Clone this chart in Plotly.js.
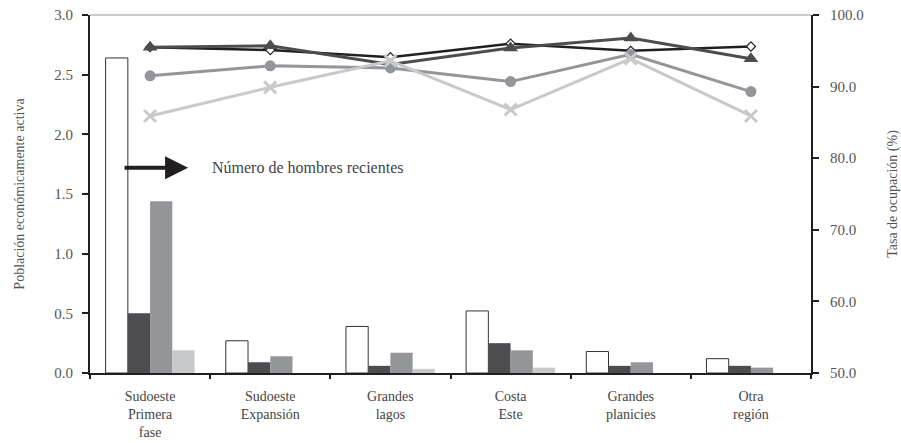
<!DOCTYPE html>
<html>
<head>
<meta charset="utf-8">
<script src="https://cdn.plot.ly/plotly-3.0.1.min.js"></script>
<style>html,body{margin:0;padding:0;background:#fff;}#chart{width:901px;height:443px;}</style>
</head>
<body>
<div id="chart"></div>
<script>
// Categories (x-axis tick labels)
const categories = ["Sudoeste<br>Primera<br>fase", "Sudoeste<br>Expansión", "Grandes<br>lagos", "Costa<br>Este", "Grandes<br>planicies", "Otra<br>región"];

// Bars: Población económicamente activa (left axis)
const barWhite = [2.64, 0.27, 0.39, 0.52, 0.18, 0.12];
const barDark  = [0.50, 0.09, 0.06, 0.25, 0.06, 0.06];
const barMid   = [1.44, 0.14, 0.17, 0.19, 0.09, 0.045];
const barLight = [0.19, 0, 0.035, 0.045, 0, 0];

// Lines: Tasa de ocupación (%) (right axis)
const lineTriangle = [95.5, 95.7, 93.1, 95.4, 96.8, 93.9];
const lineDiamond  = [95.5, 95.1, 94.1, 96.0, 95.0, 95.6];
const lineCircle   = [91.5, 92.9, 92.6, 90.7, 94.5, 89.3];
const lineCross    = [85.9, 89.9, 93.6, 86.8, 93.9, 85.9];

const annotationText = "Número de hombres recientes";
const yTitleLeft = "Población económicamente activa";
const yTitleRight = "Tasa de ocupación (%)";

const fontFam = "Liberation Serif, DejaVu Serif, serif";

const traces = [
  {type:'bar', x:categories, y:barWhite, marker:{color:'#ffffff', line:{color:'#333333', width:1}}, yaxis:'y'},
  {type:'bar', x:categories, y:barDark,  marker:{color:'#4d4d4f'}, yaxis:'y'},
  {type:'bar', x:categories, y:barMid,   marker:{color:'#939598'}, yaxis:'y'},
  {type:'bar', x:categories, y:barLight, marker:{color:'#c8c9cb'}, yaxis:'y'},
  {type:'scatter', mode:'lines+markers', x:categories, y:lineDiamond, yaxis:'y2',
   line:{color:'#231f20', width:2.5}, marker:{symbol:'diamond', size:7, color:'#ffffff', line:{color:'#231f20', width:1.2}}},
  {type:'scatter', mode:'lines+markers', x:categories, y:lineTriangle, yaxis:'y2',
   line:{color:'#4d4d4f', width:3}, marker:{symbol:'triangle-up', size:13, color:'#4d4d4f'}},
  {type:'scatter', mode:'lines+markers', x:categories, y:lineCircle, yaxis:'y2',
   line:{color:'#939598', width:3}, marker:{symbol:'circle', size:11, color:'#939598'}},
  {type:'scatter', mode:'lines+markers', x:categories, y:lineCross, yaxis:'y2',
   line:{color:'#c8c9cb', width:3}, marker:{symbol:'x-thin', size:12, color:'#c8c9cb', line:{color:'#c8c9cb', width:3}}}
];

const layout = {
  width:901, height:443,
  margin:{l:90, r:90, t:15, b:70},
  paper_bgcolor:'#ffffff', plot_bgcolor:'#ffffff',
  showlegend:false,
  barmode:'group', bargap:0.26, bargroupgap:0,
  font:{family:fontFam, size:15, color:'#444444'},
  xaxis:{type:'category', showline:true, linecolor:'#231f20', linewidth:2,
    ticks:'outside', tickson:'boundaries', ticklen:4, tickcolor:'#231f20', tickwidth:2,
    ticklabelstandoff:9,
    showgrid:false, zeroline:false, tickfont:{family:fontFam, size:14, color:'#444444'}},
  yaxis:{range:[0,3], dtick:0.5, tickformat:'.1f', showline:true, linecolor:'#231f20', linewidth:2,
    ticks:'outside', ticklen:6, tickcolor:'#231f20', tickwidth:2, showgrid:false, zeroline:false,
    ticklabelstandoff:6,
    title:{text:yTitleLeft, font:{family:fontFam, size:14, color:'#555555'}, standoff:26},
    tickfont:{family:fontFam, size:15, color:'#555555'}},
  yaxis2:{range:[50,100], dtick:10, tickformat:'.1f', overlaying:'y', side:'right', showline:true,
    linecolor:'#231f20', linewidth:2, ticks:'outside', ticklen:6, tickcolor:'#231f20', tickwidth:2,
    showgrid:false, zeroline:false, ticklabelstandoff:8,
    title:{text:yTitleRight, font:{family:fontFam, size:14, color:'#555555'}, standoff:24},
    tickfont:{family:fontFam, size:15, color:'#555555'}},
  shapes:[
    {type:'line', xref:'paper', yref:'paper', x0:0, x1:1, y0:1, y1:1, line:{color:'#c8c9cb', width:2}}
  ],
  annotations:[
    {xref:'paper', yref:'y', x:0.136, y:1.72, ax:-65, ay:0, text:'', showarrow:true,
     arrowhead:2, arrowsize:1.15, arrowwidth:4, arrowcolor:'#231f20'},
    {xref:'paper', yref:'y', x:0.166, y:1.72, xanchor:'left', yanchor:'middle', showarrow:false,
     text:annotationText, font:{family:fontFam, size:16, color:'#444444'}}
  ]
};

Plotly.newPlot('chart', traces, layout, {displayModeBar:false, staticPlot:true});
</script>
</body>
</html>
